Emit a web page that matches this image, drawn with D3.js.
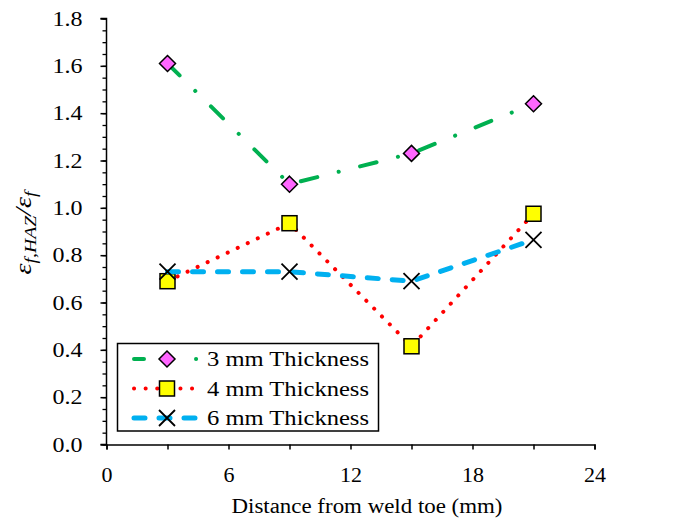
<!DOCTYPE html>
<html>
<head>
<meta charset="utf-8">
<script src="https://cdn.jsdelivr.net/npm/d3@7"></script>
<style>
  html, body { margin: 0; padding: 0; background: #fff; }
  svg { display: block; }
</style>
</head>
<body>
<svg id="chart" width="696" height="523"></svg>
<script>
// Distance from weld toe (mm)
const distances = [3, 9, 15, 21];
// Strain ratio per plate thickness
const t3mm = [1.61, 1.10, 1.23, 1.44];
const t4mm = [0.69, 0.935, 0.415, 0.975];
const t6mm = [0.73, 0.73, 0.69, 0.865];
const seriesNames = ["3 mm Thickness", "4 mm Thickness", "6 mm Thickness"];
const xTicks = [0, 6, 12, 18, 24];
const yTicks = [0, 0.2, 0.4, 0.6, 0.8, 1.0, 1.2, 1.4, 1.6, 1.8];

const FONT = "Liberation Serif";
const svg = d3.select("#chart");
const x = d3.scaleLinear().domain([0, 24]).range([106.5, 594.5]);
const y = d3.scaleLinear().domain([0, 1.8]).range([444.5, 18.5]);

// Text in this chart is set slightly wide
function widen(sel, k) {
  sel.each(function () {
    const w = this.getComputedTextLength();
    if (w > 0) {
      d3.select(this).attr("textLength", w * k).attr("lengthAdjust", "spacingAndGlyphs");
    }
  });
}

// Series styles
const styles = [
  { values: t3mm, color: "#00B050", width: 4, dash: "17 22 0.1 22", legendDash: "10 52 0.1 20", marker: "diamond" },
  { values: t4mm, color: "#FF0000", width: 4, dash: "0.1 11", legendDash: "0.1 11.5", marker: "square" },
  { values: t6mm, color: "#00B0F0", width: 5, dash: "11 14", legendDash: "11 14", marker: "cross" }
];

function drawMarker(g, type, cx, cy) {
  if (type === "diamond") {
    const r = 8;
    g.append("path")
      .attr("d", `M${cx},${cy - r}L${cx + r},${cy}L${cx},${cy + r}L${cx - r},${cy}Z`)
      .attr("fill", "#FF66FF").attr("stroke", "#000").attr("stroke-width", 1.5);
  } else if (type === "square") {
    const h = 7.5;
    g.append("rect")
      .attr("x", cx - h).attr("y", cy - h).attr("width", 2 * h).attr("height", 2 * h)
      .attr("fill", "#FFFF00").attr("stroke", "#000").attr("stroke-width", 1.5);
  } else {
    const h = 8;
    g.append("path")
      .attr("d", `M${cx - h},${cy - h}L${cx + h},${cy + h}M${cx - h},${cy + h}L${cx + h},${cy - h}`)
      .attr("fill", "none").attr("stroke", "#000").attr("stroke-width", 1.8);
  }
}

// X axis
const xAxis = d3.axisBottom(x).tickValues(d3.range(0, 25, 3)).tickSize(5)
  .tickFormat(d => xTicks.includes(d) ? d : "");
const gx = svg.append("g").attr("transform", `translate(0,${y(0)})`).call(xAxis)
  .attr("font-family", FONT).attr("font-size", 20);
gx.select(".domain").attr("stroke-width", 1.5);
gx.selectAll(".tick line").attr("stroke-width", 1.5);
gx.selectAll(".tick text").attr("y", 37).attr("dy", 0).attr("font-family", FONT);
widen(gx.selectAll(".tick text"), 1.1);

// Y axis: minor then major ticks
const gyMinor = svg.append("g").attr("transform", `translate(${x(0)},0)`)
  .call(d3.axisLeft(y).tickValues(d3.range(0, 1.801, 0.05)).tickSize(4).tickFormat(""));
gyMinor.select(".domain").remove();
gyMinor.selectAll(".tick line").attr("stroke-width", 1.3);

const gy = svg.append("g").attr("transform", `translate(${x(0)},0)`)
  .call(d3.axisLeft(y).tickValues(yTicks).tickSize(6).tickFormat(d3.format(".1f")))
  .attr("font-family", FONT).attr("font-size", 20);
gy.select(".domain").attr("stroke-width", 1.5).attr("d", `M-6,${y(1.8)}H0V${y(0)}H-6`);
gy.selectAll(".tick line").attr("stroke-width", 1.5);
gy.selectAll(".tick text").attr("x", -24).attr("dy", "0.34em").attr("font-family", FONT);
widen(gy.selectAll(".tick text"), 1.2);

// Axis titles
svg.append("text")
  .attr("x", 367).attr("y", 513).attr("text-anchor", "middle")
  .attr("font-family", FONT).attr("font-size", 20)
  .attr("textLength", 271).attr("lengthAdjust", "spacingAndGlyphs")
  .text("Distance from weld toe (mm)");

const yl = svg.append("text")
  .attr("transform", "translate(31,233) rotate(-90)")
  .attr("text-anchor", "middle").attr("font-family", FONT)
  .attr("font-size", 24).attr("font-style", "italic");
yl.append("tspan").text("ε");
yl.append("tspan").attr("font-size", 17).attr("dy", 5).text("f,HAZ");
yl.append("tspan").attr("font-size", 24).attr("dy", -5).text("/ε");
yl.append("tspan").attr("font-size", 17).attr("dy", 5).text("f");
yl.attr("textLength", 83).attr("lengthAdjust", "spacingAndGlyphs");

// Series lines and markers
const line = d3.line().x((d, i) => x(distances[i])).y(d => y(d));
styles.forEach(s => {
  const g = svg.append("g");
  g.append("path").datum(s.values).attr("d", line)
    .attr("fill", "none").attr("stroke", s.color).attr("stroke-width", s.width)
    .attr("stroke-dasharray", s.dash).attr("stroke-linecap", "round");
  s.values.forEach((v, i) => drawMarker(g, s.marker, x(distances[i]), y(v)));
});

// Legend
const lg = svg.append("g");
lg.append("rect").attr("x", 117.5).attr("y", 343.5).attr("width", 261).attr("height", 87.5)
  .attr("fill", "#fff").attr("stroke", "#000").attr("stroke-width", 1.5);
styles.forEach((s, i) => {
  const ly = 359 + i * 29.5;
  lg.append("path").attr("d", `M134,${ly}H200`)
    .attr("fill", "none").attr("stroke", s.color).attr("stroke-width", s.width)
    .attr("stroke-dasharray", s.legendDash).attr("stroke-linecap", "round");
  drawMarker(lg, s.marker, 167, ly);
  lg.append("text").attr("x", 207).attr("y", ly + 7)
    .attr("font-family", FONT).attr("font-size", 21)
    .attr("textLength", 162).attr("lengthAdjust", "spacingAndGlyphs")
    .text(seriesNames[i]);
});
</script>
</body>
</html>
